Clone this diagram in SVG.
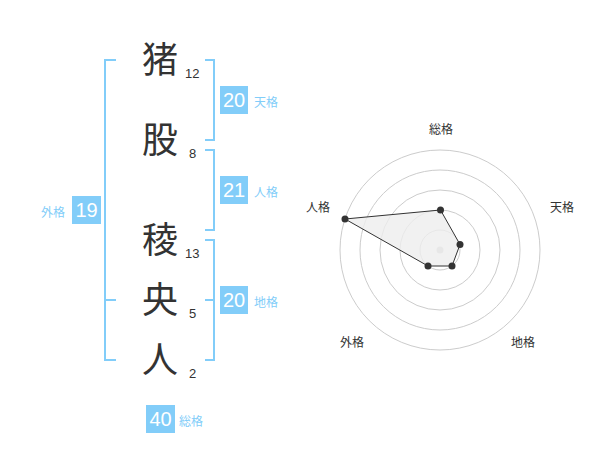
<svg xmlns="http://www.w3.org/2000/svg" width="600" height="470" viewBox="0 0 600 470">
<style>
.kanji{font-family:"Noto Sans CJK JP","Noto Sans CJK SC",sans-serif;font-size:36px;fill:#333;text-anchor:middle}
.stroke{font-family:"Liberation Sans",Arial,sans-serif;font-size:13px;fill:#333}
.br{fill:none;stroke:#82cdf9;stroke-width:2}
.box{fill:#82cdf9}
.num{font-family:"Liberation Sans",Arial,sans-serif;font-size:20px;fill:#fff;text-anchor:middle}
.lab{font-family:"Noto Sans CJK JP",sans-serif;font-size:12px;fill:#82cdf9}
.ring{fill:none;stroke:#ccc;stroke-width:1}
.rlab{font-family:"Noto Sans CJK JP",sans-serif;font-size:12px;fill:#333;text-anchor:middle}
</style>
<rect width="600" height="470" fill="#fff"/>
<g id="chars">
<text class="kanji" x="160" y="73">猪</text><text class="stroke" x="185" y="78">12</text>
<text class="kanji" x="160" y="153">股</text><text class="stroke" x="189" y="158">8</text>
<text class="kanji" x="160" y="253">稜</text><text class="stroke" x="185" y="258">13</text>
<text class="kanji" x="160" y="313">央</text><text class="stroke" x="189" y="318">5</text>
<text class="kanji" x="160" y="373">人</text><text class="stroke" x="189" y="378">2</text>
</g>
<g id="connectors">
<path class="br" d="M116,60 H105 V360 H116 M105,300 H116"/>
<path class="br" d="M205,60 H214 V140 H205"/>
<path class="br" d="M205,150 H214 V230 H205"/>
<path class="br" d="M205,240 H214 V360 H205 M214,300 H205"/>
</g>
<g id="tenkaku"><rect class="box" x="220" y="86" width="28" height="28"/><text class="num" x="234" y="107">20</text><text class="lab" x="254" y="107">天格</text></g>
<g id="jinkaku"><rect class="box" x="220" y="176" width="28" height="28"/><text class="num" x="234" y="197">21</text><text class="lab" x="254" y="197">人格</text></g>
<g id="chikaku"><rect class="box" x="220" y="286" width="28" height="28"/><text class="num" x="234" y="307">20</text><text class="lab" x="254" y="307">地格</text></g>
<g id="gaikaku"><rect class="box" x="72" y="196" width="29" height="28"/><text class="num" x="86.5" y="217">19</text><text class="lab" x="41" y="217">外格</text></g>
<g id="soukaku"><rect class="box" x="146" y="405" width="29" height="28"/><text class="num" x="160.5" y="426">40</text><text class="lab" x="179" y="426">総格</text></g>
<g id="radar">
<circle class="ring" cx="440" cy="250" r="20"/>
<circle class="ring" cx="440" cy="250" r="40"/>
<circle class="ring" cx="440" cy="250" r="60"/>
<circle class="ring" cx="440" cy="250" r="80"/>
<circle class="ring" cx="440" cy="250" r="100"/>
<circle cx="440" cy="250" r="3.5" fill="#ccc"/>
<polygon points="440.5,210 460,244.5 452,266 428,266 345,219" fill="#eee" fill-opacity="0.8" stroke="#333" stroke-width="1"/>
<g fill="#333">
<circle cx="440.5" cy="210" r="3.5"/><circle cx="460" cy="244.5" r="3.5"/><circle cx="452" cy="266" r="3.5"/><circle cx="428" cy="266" r="3.5"/><circle cx="345" cy="219" r="3.5"/>
</g>
<text class="rlab" x="441" y="134">総格</text>
<text class="rlab" x="562" y="212">天格</text>
<text class="rlab" x="318" y="212">人格</text>
<text class="rlab" x="352" y="347">外格</text>
<text class="rlab" x="523" y="347">地格</text>
</g>
</svg>
